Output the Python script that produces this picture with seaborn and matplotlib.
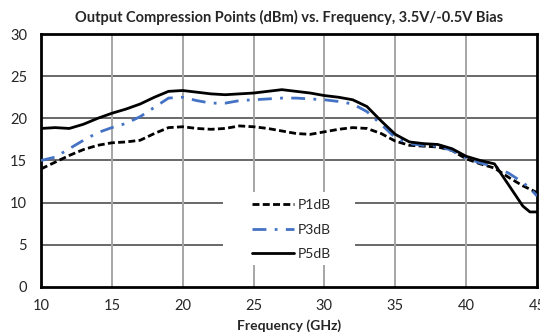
import numpy as np
import pandas as pd
import matplotlib
matplotlib.use("Agg")
import matplotlib.pyplot as plt
from matplotlib.patches import Rectangle
import seaborn as sns

freq = [10, 11, 12, 13, 14, 15, 16, 17, 18, 19, 20, 21, 22, 23, 24, 25, 26, 27,
        28, 29, 30, 31, 32, 33, 34, 35, 36, 37, 38, 39, 40, 41, 42, 43, 44, 44.5, 45]
p1db = [14.0, 14.8, 15.6, 16.3, 16.8, 17.1, 17.2, 17.4, 18.2, 18.9, 19.0, 18.8,
        18.7, 18.8, 19.1, 19.0, 18.8, 18.5, 18.2, 18.1, 18.4, 18.7, 18.9, 18.8,
        18.2, 17.3, 16.8, 16.7, 16.6, 16.2, 15.2, 14.6, 14.1, 13.0, 12.0, 11.6, 11.2]
p3db = [15.0, 15.4, 16.4, 17.4, 18.3, 18.9, 19.4, 20.2, 21.3, 22.4, 22.5, 22.1,
        21.8, 21.8, 22.1, 22.2, 22.3, 22.4, 22.4, 22.3, 22.2, 22.0, 21.7, 20.8,
        19.3, 17.7, 17.0, 16.8, 16.7, 16.2, 15.3, 14.7, 14.3, 13.5, 12.4, 11.7, 10.8]
p5db = [18.8, 18.9, 18.8, 19.3, 20.0, 20.6, 21.1, 21.7, 22.5, 23.2, 23.3, 23.1,
        22.9, 22.8, 22.9, 23.0, 23.2, 23.4, 23.2, 23.0, 22.7, 22.5, 22.2, 21.4,
        19.7, 18.1, 17.2, 17.0, 16.9, 16.4, 15.5, 15.0, 14.6, 12.1, 9.6, 8.9, 8.9]

x_ticks = [10, 15, 20, 25, 30, 35, 40, 45]
y_ticks = [0, 5, 10, 15, 20, 25, 30]

sns.set_style("white")
plt.rcParams["font.family"] = ["Lato", "DejaVu Sans"]

df = pd.DataFrame({"f": freq, "P1dB": p1db, "P3dB": p3db, "P5dB": p5db})
long = df.melt(id_vars="f", var_name="series", value_name="dBm")

fig = plt.figure(figsize=(5.4, 3.35), dpi=100)
ax = fig.add_axes([0.0759, 0.1433, 0.9185, 0.7552])

styles = {
    "P1dB": dict(color="black", ls=(0, (2.5, 1.2))),
    "P3dB": dict(color="#4472C4", ls=(0, (5, 3, 1, 3))),
    "P5dB": dict(color="black", ls="-"),
}
for name in ["P1dB", "P3dB", "P5dB"]:
    sub = long[long["series"] == name]
    sns.lineplot(data=sub, x="f", y="dBm", ax=ax, label=name,
                 color=styles[name]["color"], linestyle=styles[name]["ls"],
                 linewidth=2.0, zorder=3)

ax.set_xlim(10, 45)
ax.set_ylim(0, 30)
ax.set_xticks(x_ticks)
ax.set_yticks(y_ticks)
ax.set_xticklabels([str(t) for t in x_ticks], fontsize=10.5)
ax.set_yticklabels([str(t) for t in y_ticks], fontsize=10.5)
ax.tick_params(axis="x", length=0, pad=9)
ax.tick_params(axis="y", length=0, pad=10)

for y in y_ticks[1:-1]:
    ax.axhline(y, color="#404040", lw=1.1, zorder=1)
for x in x_ticks[1:-1]:
    ax.axvline(x, color="#a6a6a6", lw=1.4, zorder=1)

for s in ax.spines.values():
    s.set_visible(True)
    s.set_color("black")
    s.set_linewidth(2.0)

ax.set_ylabel("")
ax.set_xlabel("Frequency (GHz)", fontsize=10, fontweight="bold", labelpad=4)
ax.set_title("Output Compression Points (dBm) vs. Frequency, 3.5V/-0.5V Bias",
             fontsize=10.5, fontweight="bold", pad=9)

# white legend panel hiding the grid behind the key
ax.add_patch(Rectangle((0.367, 0.087), 0.266, 0.288, transform=ax.transAxes,
                       facecolor="white", edgecolor="none", zorder=4))
leg = ax.legend(loc="center", bbox_to_anchor=(0.505, 0.226),
                frameon=False, fontsize=10,
                handlelength=3.0, handletextpad=0.25, labelspacing=0.9,
                borderpad=0.2)
leg.set_zorder(5)

fig.savefig("out.png", dpi=100)
